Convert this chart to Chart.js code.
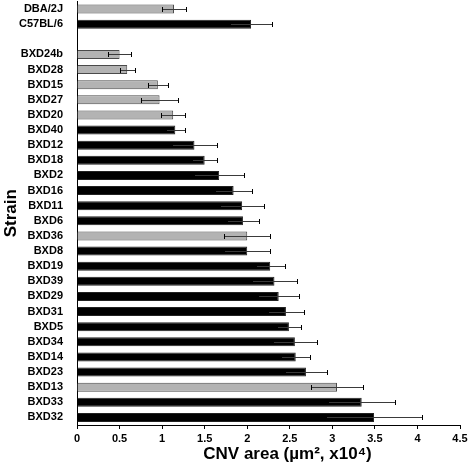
<!DOCTYPE html>
<html>
<head>
<meta charset="utf-8">
<script src="https://cdn.jsdelivr.net/npm/chart.js@4/dist/chart.umd.min.js"></script>
<style>
  html, body { margin: 0; padding: 0; background: #fff; }
  #wrap { width: 470px; height: 476px; position: relative; }
</style>
</head>
<body>
<div id="wrap"><canvas id="c"></canvas></div>
<script>
// ---- data ----
const strains = ['DBA/2J','C57BL/6','','BXD24b','BXD28','BXD15','BXD27','BXD20','BXD40','BXD12','BXD18','BXD2','BXD16','BXD11','BXD6','BXD36','BXD8','BXD19','BXD39','BXD29','BXD31','BXD5','BXD34','BXD14','BXD23','BXD13','BXD33','BXD32'];
const cnvArea = [1.14,2.045,null,0.50,0.59,0.95,0.97,1.13,1.155,1.38,1.50,1.67,1.84,1.94,1.95,2.00,2.00,2.27,2.32,2.37,2.455,2.49,2.56,2.57,2.69,3.055,3.345,3.49];
const cnvError = [0.14,0.245,null,0.14,0.09,0.12,0.22,0.14,0.115,0.26,0.15,0.29,0.22,0.26,0.19,0.27,0.27,0.17,0.26,0.24,0.21,0.145,0.255,0.17,0.25,0.30,0.395,0.56];
const grayStrains = ['DBA/2J','BXD24b','BXD28','BXD15','BXD27','BXD20','BXD36','BXD13'];
const xTicks = [0,0.5,1,1.5,2,2.5,3,3.5,4,4.5];
const xTitle = 'CNV area (µm², x10⁴)';
const yTitle = 'Strain';

const FONT = "'Liberation Sans', Arial, sans-serif";

const fills = strains.map(s => grayStrains.includes(s) ? '#b3b3b3' : '#000000');
const borders = strains.map(s => grayStrains.includes(s) ? '#4a4a4a' : '#222222');

const errorBars = {
  id: 'errorBars',
  afterDatasetsDraw(chart) {
    const ctx = chart.ctx;
    const xs = chart.scales.x, ys = chart.scales.y;
    ctx.save();
    cnvArea.forEach((v, i) => {
      if (v == null) return;
      const e = cnvError[i];
      const y = Math.round(ys.getPixelForValue(i)) + 0.5;
      const xl = Math.round(xs.getPixelForValue(v - e)) + 0.5;
      const xr = Math.round(xs.getPixelForValue(v + e)) + 0.5;
      ctx.strokeStyle = '#3a3a3a';
      ctx.lineWidth = 1;
      ctx.beginPath();
      ctx.moveTo(xl, y); ctx.lineTo(xr, y);
      ctx.stroke();
      ctx.strokeStyle = '#000';
      ctx.beginPath();
      ctx.moveTo(xl, y - 2.5); ctx.lineTo(xl, y + 2.5);
      ctx.moveTo(xr, y - 2.5); ctx.lineTo(xr, y + 2.5);
      ctx.stroke();
    });
    ctx.restore();
  }
};

const xTitlePlugin = {
  id: 'xTitlePlugin',
  afterDraw(chart) {
    const ctx = chart.ctx;
    const a = chart.chartArea;
    ctx.save();
    ctx.font = "bold 17px " + FONT;
    ctx.fillStyle = '#000';
    ctx.textAlign = 'center';
    ctx.textBaseline = 'middle';
    ctx.fillText(xTitle, (a.left + a.right) / 2 + 19, a.bottom + 29);
    ctx.restore();
  }
};

new Chart(document.getElementById('c'), {
  type: 'bar',
  data: {
    labels: strains,
    datasets: [{
      data: cnvArea,
      backgroundColor: fills,
      borderColor: borders,
      borderWidth: 1,
      borderSkipped: 'start',
      barPercentage: 0.6,
      categoryPercentage: 1.0
    }]
  },
  options: {
    indexAxis: 'y',
    responsive: true,
    maintainAspectRatio: false,
    animation: false,
    layout: { padding: { top: 1.5, right: 10, bottom: 0, left: 0 } },
    plugins: { legend: { display: false }, tooltip: { enabled: false } },
    scales: {
      x: {
        type: 'linear',
        min: 0, max: 4.5,
        afterBuildTicks(scale) { scale.ticks = xTicks.map(v => ({ value: v })); },
        afterFit(scale) { scale.height = 51; scale.paddingLeft = 0; scale.paddingRight = 0; },
        grid: { display: true, drawOnChartArea: false, drawTicks: true, tickLength: 4, color: '#000' },
        border: { display: true, color: '#000', width: 1 },
        ticks: {
          color: '#000', padding: 3,
          font: { family: FONT, size: 11, weight: 'bold' },
          callback: v => String(v)
        },
        title: { display: false }
      },
      y: {
        afterFit(scale) { scale.width = 77; scale.paddingTop = 0; scale.paddingBottom = 0; },
        grid: { display: false },
        border: { display: true, color: '#000', width: 1 },
        ticks: {
          color: '#000', padding: 6, autoSkip: false,
          font: { family: FONT, size: 11, weight: 'bold' }
        },
        title: {
          display: true, text: yTitle, color: '#000',
          font: { family: FONT, size: 17, weight: 'bold' },
          padding: { top: 1, bottom: 0 }
        }
      }
    }
  },
  plugins: [errorBars, xTitlePlugin]
});
</script>
</body>
</html>
